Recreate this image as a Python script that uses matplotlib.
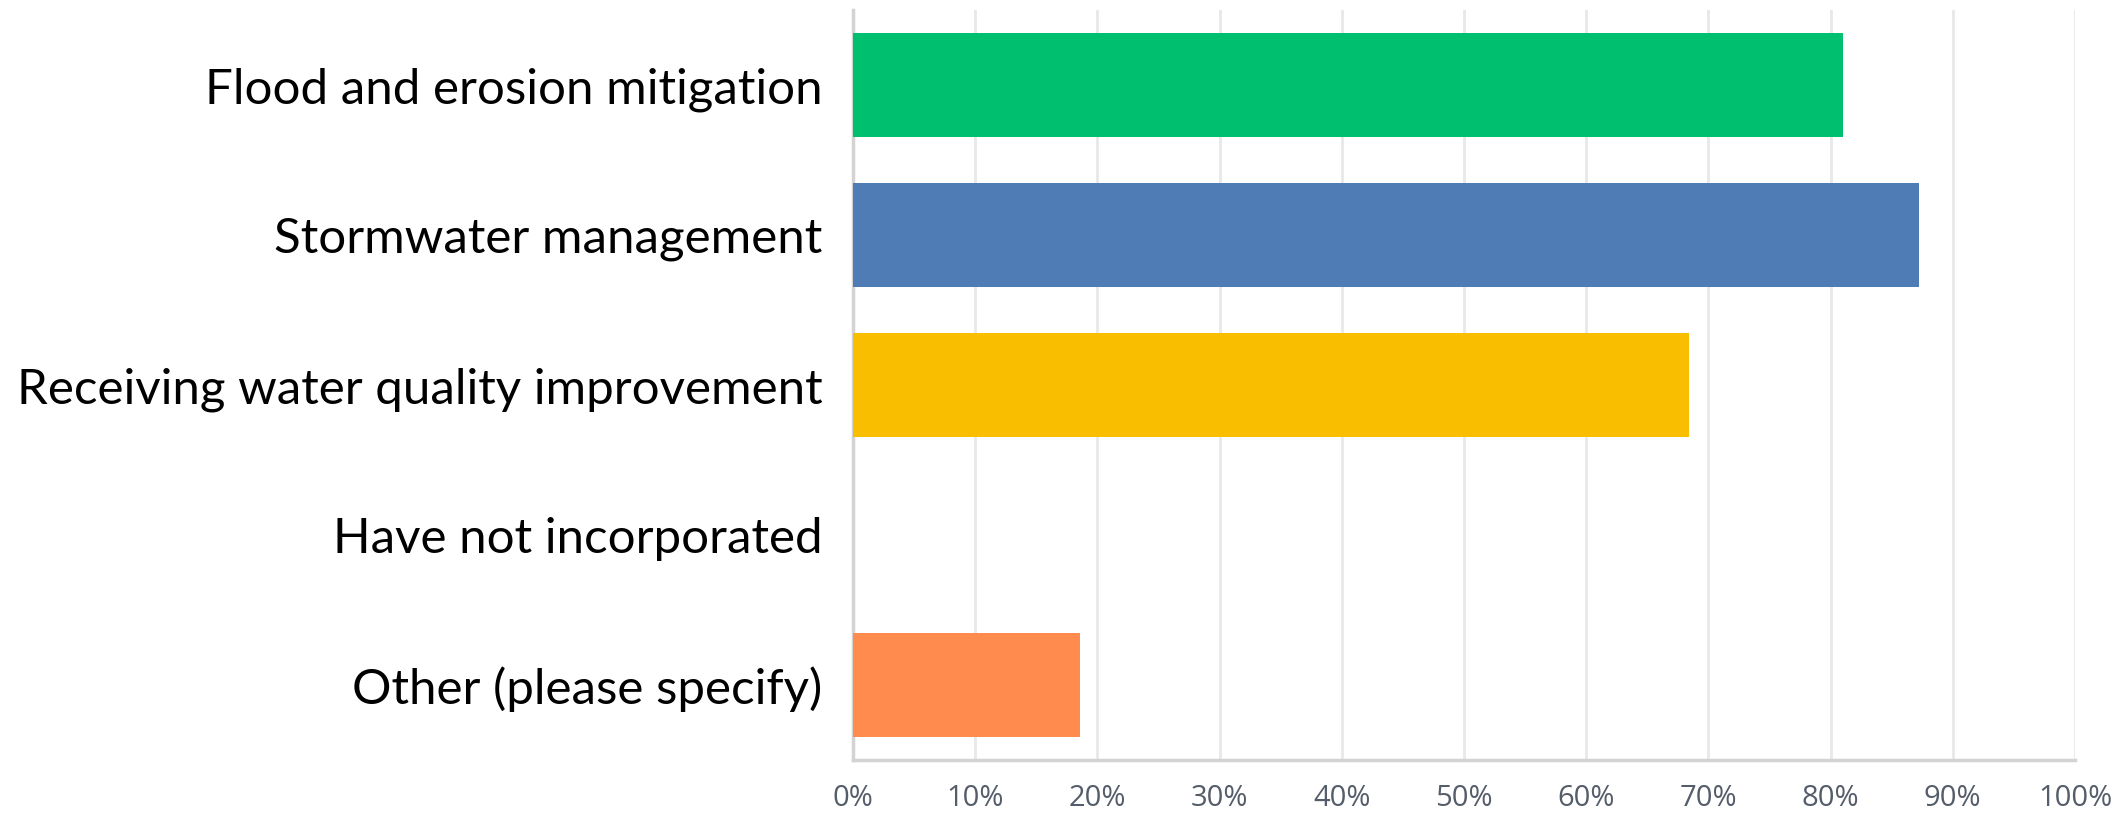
import matplotlib.pyplot as plt
import numpy as np

# Survey answers, top to bottom
categories = ['Flood and erosion mitigation', 'Stormwater management',
              'Receiving water quality improvement', 'Have not incorporated',
              'Other (please specify)']
values = [81.0, 87.2, 68.4, 0.0, 18.6]
colors = ['#00BF6F', '#507CB6', '#F9BE00', '#D0D0D0', '#FF8B4F']
xticks = np.arange(0, 101, 10)
xticklabels = [f'{t}%' for t in xticks]

fig = plt.figure(figsize=(21.16, 8.16), dpi=100)
ax = fig.add_axes([0.4031, 0.0686, 0.9806 - 0.4031, 0.9877 - 0.0686])

y = np.arange(len(categories))
ax.barh(y, values, height=0.693, color=colors, zorder=3)

ax.set_xlim(0, 100)
ax.set_ylim(len(categories) - 0.5, -0.5)

ax.set_yticks(y)
ax.set_yticklabels(categories, fontsize=35.5, family='Lato', color='black')
ax.tick_params(axis='y', length=0, pad=22)

ax.set_xticks(xticks)
ax.set_xticklabels(xticklabels, fontsize=21, family='Open Sans', color='#555d6a')
ax.tick_params(axis='x', length=0, pad=17)

ax.grid(axis='x', color='#e8e8e8', linewidth=2, zorder=0)
for s in ['top', 'right']:
    ax.spines[s].set_visible(False)
ax.spines['bottom'].set_color('#d3d3d3')
ax.spines['bottom'].set_linewidth(2.5)
ax.spines['left'].set_color('#d3d3d3')
ax.spines['left'].set_linewidth(2.5)

fig.savefig('out.png', dpi=100)
